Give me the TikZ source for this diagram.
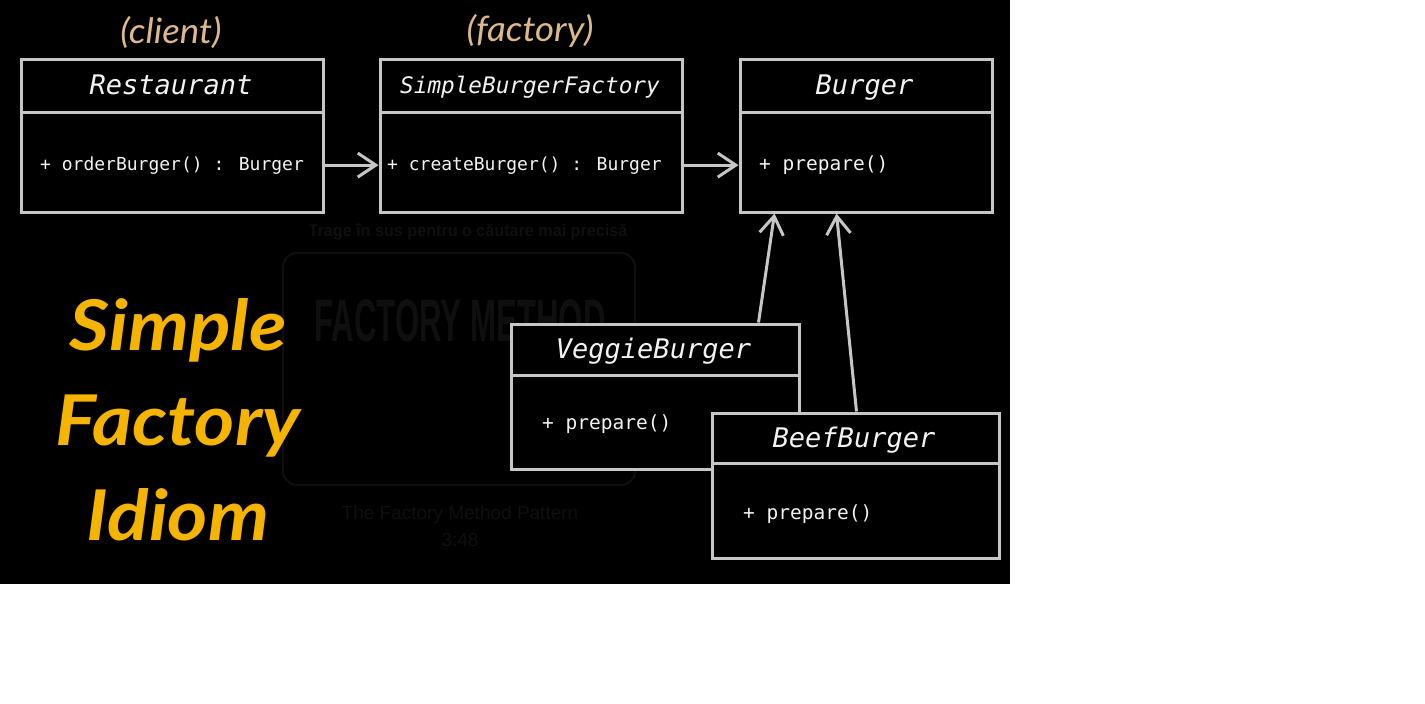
\documentclass[tikz,border=0pt]{standalone}
\usepackage{fontspec}
\usetikzlibrary{arrows.meta,calc}
\newfontfamily\monofam{DejaVu Sans Mono}
\newfontfamily\latofam{Lato}
\newfontfamily\libsans{Liberation Sans}
\definecolor{boxgray}{HTML}{C6C6C6}
\definecolor{txtwhite}{HTML}{F2F2F2}
\definecolor{tanlbl}{HTML}{DDB98A}
\definecolor{goldtitle}{HTML}{F4B400}
\definecolor{faint}{HTML}{0F0F0F}
\begin{document}
\begin{tikzpicture}[x=1pt,y=-1pt,
  umlbox/.style={draw=boxgray,line width=3pt,fill=black,anchor=north west,inner sep=0pt,rectangle},
  divider/.style={draw=boxgray,line width=3pt},
  ttl/.style={text=txtwhite,font=\monofam\itshape\fontsize{27}{30}\selectfont,anchor=base,inner sep=0pt},
  ttlsmall/.style={ttl,font=\monofam\itshape\fontsize{22.7}{26}\selectfont},
  meth/.style={text=txtwhite,font=\monofam\fontsize{18}{20}\selectfont,anchor=base west,inner sep=0pt},
  methp/.style={meth,font=\monofam\fontsize{19.5}{22}\selectfont},
  role/.style={text=tanlbl,font=\latofam\itshape\fontsize{35}{38}\selectfont,anchor=base,inner sep=0pt,xscale=1.05},
  bigtitle/.style={text=goldtitle,font=\latofam\bfseries\itshape\fontsize{70}{80}\selectfont,anchor=base,inner sep=0pt,xscale=1.1},
  wm/.style={text=faint,font=\libsans\bfseries\fontsize{17}{20}\selectfont,inner sep=0pt},
  conn/.style={draw=boxgray,line width=3pt,-{Straight Barb[length=18pt,width=24pt]}},
]
\useasboundingbox (0,0) rectangle (1425,704);
\fill[white] (0,0) rectangle (1425,704);
\fill[black] (0,0) rectangle (1010,584);

% faint watermark
\draw[faint,line width=2pt,rounded corners=14pt] (283,253) rectangle (635,485);
\node[wm,xscale=0.95] (wm1) at (468,232) {Trage în sus pentru o căutare mai precisă};
\node[wm,font=\libsans\bfseries\fontsize{60}{64}\selectfont,xscale=0.52] (wm2) at (460,321) {FACTORY METHOD};
\node[wm,font=\libsans\fontsize{19}{22}\selectfont] (wm3) at (460,515) {The Factory Method Pattern};
\node[wm,font=\libsans\fontsize{19}{22}\selectfont] (wm4) at (460,540) {3:48};

% role labels
\node[role] (client) at (171,43) {(client)};
\node[role] (factory) at (530,41) {(factory)};

% big title
\node[bigtitle] (t1) at (178,350) {Simple};
\node[bigtitle] (t2) at (178,445) {Factory};
\node[bigtitle] (t3) at (178,540) {Idiom};

% Restaurant
\node[umlbox,minimum width=302pt,minimum height=153pt] (rest) at (19.5,57.5) {};
\draw[divider] (rest.west |- 0,112) -- (rest.east |- 0,112);
\node[ttl] (restt) at (171,94) {Restaurant};
\node[meth] (restm) at (40,170) {+ orderBurger() : Burger};

% SimpleBurgerFactory
\node[umlbox,minimum width=302pt,minimum height=153pt] (fact) at (378.5,57.5) {};
\draw[divider] (fact.west |- 0,112) -- (fact.east |- 0,112);
\node[ttlsmall] (factt) at (530,93) {SimpleBurgerFactory};
\node[meth] (factm) at (387,170) {+ createBurger() : Burger};

% Burger
\node[umlbox,minimum width=252pt,minimum height=153pt] (burg) at (738.5,57.5) {};
\draw[divider] (burg.west |- 0,112) -- (burg.east |- 0,112);
\node[ttl] (burgt) at (864.5,94) {Burger};
\node[methp] (burgm) at (759,170) {+ prepare()};

% associations
\draw[conn] (rest.east |- restm) -- (fact.west |- restm);
\draw[conn] (fact.east |- factm) -- (burg.west |- factm);

% VeggieBurger
\node[umlbox,minimum width=288pt,minimum height=145pt] (veg) at (509.5,322.5) {};
\draw[divider] (veg.west |- 0,375) -- (veg.east |- 0,375);
\node[ttl] (vegt) at (653.5,358) {VeggieBurger};
\node[methp] (vegm) at (542,429) {+ prepare()};

% inheritance
\draw[conn] ([xshift=103.5pt]veg.north) -- ([xshift=-91.5pt]burg.south);

% BeefBurger
\node[umlbox,minimum width=287pt,minimum height=145pt] (beef) at (710.5,411.5) {};
\draw[divider] (beef.west |- 0,463) -- (beef.east |- 0,463);
\node[ttl] (beeft) at (854,447) {BeefBurger};
\node[methp] (beefm) at (743,519) {+ prepare()};

\draw[conn] ([xshift=1pt]beef.north) -- ([xshift=-29.5pt]burg.south);
\end{tikzpicture}
\end{document}
